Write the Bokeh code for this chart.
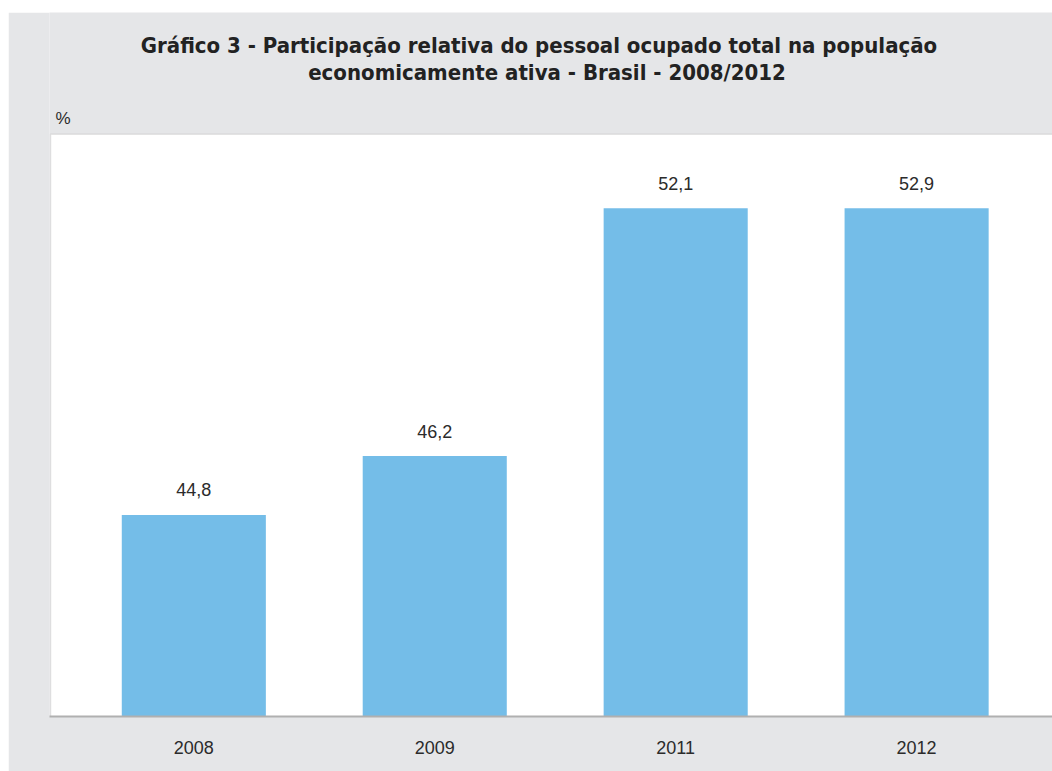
from bokeh.plotting import figure
from bokeh.models import ColumnDataSource, Label, BoxAnnotation, Range1d, FixedTicker, LabelSet
from bokeh.core.properties import value
from bokeh.embed import file_html
from bokeh.resources import INLINE

# ---- data ----
years = ["2008", "2009", "2011", "2012"]
bar_tops = [44.8, 46.2, 52.1, 52.1]        # bar heights as drawn in the reference
value_labels = ["44,8", "46,2", "52,1", "52,9"]
axis_base = 40.0
title_line1 = "Gráfico 3 - Participação relativa do pessoal ocupado total na população"
title_line2 = "economicamente ativa - Brasil - 2008/2012"
unit_label = "%"

BG = "#e5e6e8"
BAR = "#74bde8"
EDGE = "#b0b0b0"
TXT = "#2b2b2b"
TITLE_FONT = "DejaVu Sans Condensed"
BODY_FONT = "Liberation Sans"

xs = list(range(len(years)))
src = ColumnDataSource(dict(x=xs, top=bar_tops, label=value_labels))

# plotting area (white box) limits, and the frame extended upward to hold the titles
x0, x1 = -0.599, 3.564
box_top = 53.86
y0, y1 = axis_base, 56.76
px = (x1 - x0) / 1003.0   # one pixel in x data units

p = figure(width=1044, height=759, x_range=Range1d(x0, x1), y_range=Range1d(y0, y1),
           output_backend="svg", toolbar_location=None, title=None,
           background_fill_color=BG, border_fill_color=BG,
           min_border_left=41, min_border_right=0, min_border_bottom=55, min_border_top=0,
           outline_line_color=None)
p.margin = (12, 0, 0, 8)

p.add_layout(BoxAnnotation(left=x0 + px, right=x1 + 1, bottom=y0 - 1, top=box_top,
                           fill_color="white", fill_alpha=1.0,
                           line_color=EDGE, line_width=1.6, level="underlay"))

p.vbar(x="x", top="top", bottom=axis_base, width=0.598, source=src,
       fill_color=BAR, line_color=None)

p.add_layout(LabelSet(x="x", y="top", text="label", source=src, y_offset=25,
                      text_align="center", text_baseline="middle",
                      text_font_size="18px", text_color=TXT, text_font=value(BODY_FONT)))

p.yaxis.visible = False
p.grid.visible = False
p.xaxis.ticker = FixedTicker(ticks=xs)
p.xaxis.major_label_overrides = {i: y for i, y in zip(xs, years)}
p.xaxis.axis_line_color = EDGE
p.xaxis.axis_line_width = 2
p.xaxis.major_tick_line_color = None
p.xaxis.minor_tick_line_color = None
p.xaxis.major_label_text_font_size = "18px"
p.xaxis.major_label_text_color = TXT
p.xaxis.major_label_text_font = BODY_FONT
p.xaxis.major_label_standoff = 18

xc = (x0 + x1) / 2
p.add_layout(Label(x=xc, y=box_top, x_offset=-12, y_offset=89, text=title_line1,
                   text_align="center", text_baseline="middle", text_font_size="22px",
                   text_font_style="bold", text_color="#222222", text_font=TITLE_FONT))
p.add_layout(Label(x=xc, y=box_top, x_offset=-4, y_offset=62, text=title_line2,
                   text_align="center", text_baseline="middle", text_font_size="22px",
                   text_font_style="bold", text_color="#222222", text_font=TITLE_FONT))
p.add_layout(Label(x=x0, y=box_top, x_offset=6, y_offset=16, text=unit_label,
                   text_align="left", text_baseline="middle", text_font_size="17px",
                   text_color=TXT, text_font=BODY_FONT))

open("out.html", "w").write(file_html(p, INLINE))
